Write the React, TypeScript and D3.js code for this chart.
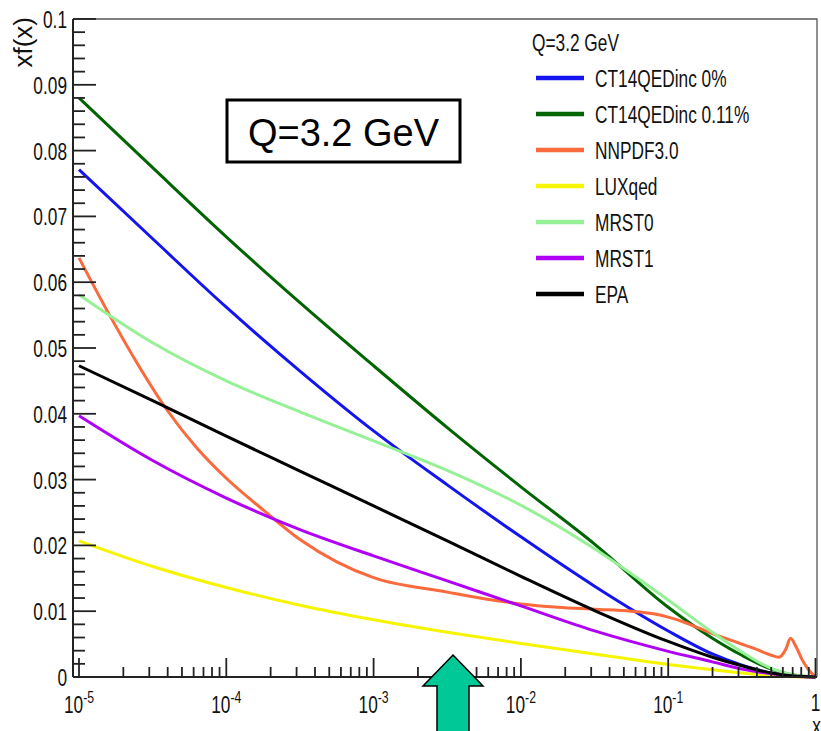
import { useEffect, useRef } from "react";
import * as d3 from "d3";

// x grid as powers of ten (x = 10^e)
const gridExp = [-5, -4.5, -4, -3.5, -3, -2.5, -2, -1.5, -1, -0.7, -0.5, -0.3, -0.15, 0];

const ct14Inc0 = [0.0771, 0.0666, 0.0562, 0.0465, 0.0374, 0.0292, 0.0213, 0.0138, 0.007, 0.0035, 0.0018, 0.0006, 0.00015, 0];
const ct14Inc011 = [0.088, 0.0774, 0.0669, 0.0569, 0.0473, 0.0379, 0.0289, 0.0202, 0.0106, 0.0059, 0.0033, 0.0012, 0.0003, 0];
const luxqed = [0.0207, 0.0168, 0.0136, 0.0109, 0.0087, 0.0068, 0.0051, 0.0035, 0.0019, 0.0011, 0.0006, 0.0002, 0.00005, 0];
const mrst0 = [0.0581, 0.0508, 0.045, 0.0403, 0.0359, 0.0314, 0.0261, 0.0195, 0.0117, 0.0068, 0.0038, 0.0013, 0.0003, 0];
const mrst1 = [0.0397, 0.0329, 0.0272, 0.0224, 0.0184, 0.0146, 0.0108, 0.007, 0.0039, 0.0023, 0.0012, 0.0005, 0.0001, 0];
const epa = [0.0473, 0.042, 0.0366, 0.0313, 0.026, 0.0207, 0.0153, 0.0101, 0.0054, 0.003, 0.0017, 0.0006, 0.00015, 0];

// NNPDF3.0 has its own, denser grid (bump near x~0.7)
const nnpdfExp = [-5, -4.8, -4.6, -4.4, -4.2, -4, -3.75, -3.5, -3.25, -3, -2.5, -2.25, -2, -1.75, -1.5, -1.25, -1.1, -1, -0.9, -0.8, -0.7, -0.6, -0.5, -0.4, -0.3, -0.25, -0.2, -0.17, -0.13, -0.09, -0.05, 0];
const nnpdf30 = [0.0637, 0.0553, 0.0475, 0.0405, 0.0348, 0.0302, 0.0254, 0.0209, 0.0175, 0.0151, 0.0129, 0.0119, 0.0111, 0.0106, 0.0103, 0.01, 0.0096, 0.0091, 0.0084, 0.0075, 0.0066, 0.0058, 0.005, 0.0042, 0.0033, 0.003, 0.0043, 0.0059, 0.0045, 0.0026, 0.0012, 0];

const seriesNames = ["CT14QEDinc 0%", "CT14QEDinc 0.11%", "NNPDF3.0", "LUXqed", "MRST0", "MRST1", "EPA"];
const seriesColors = ["#1414f0", "#006400", "#fa6a3c", "#f5f500", "#96f096", "#b000f5", "#000000"];

const yTicks = [0, 0.01, 0.02, 0.03, 0.04, 0.05, 0.06, 0.07, 0.08, 0.09, 0.1];
const yTickLabels = ["0", "0.01", "0.02", "0.03", "0.04", "0.05", "0.06", "0.07", "0.08", "0.09", "0.1"];
const xDecades = [-5, -4, -3, -2, -1, 0];

const W = 821, H = 731;
const FONT = "'Liberation Sans', Arial, sans-serif";
const SX = 0.72;

function App() {
  const ref = useRef(null);

  useEffect(() => {
    const svg = d3.select(ref.current);
    svg.selectAll("*").remove();

    const left = 73, right = 815.5, top = 19, bottom = 677;
    const xLeft = Math.pow(10, -5 - 6 / 147.3);
    const x = d3.scaleLog().domain([xLeft, 1]).range([left, right]);
    const y = d3.scaleLinear().domain([0, 0.1]).range([bottom, top]);

    svg.append("rect").attr("width", W).attr("height", H).attr("fill", "#fff");

    // frame
    svg.append("path")
      .attr("d", `M${left},${top}H817V${bottom}`)
      .attr("fill", "none").attr("stroke", "#555").attr("stroke-width", 1.3);

    const rootText = (g, tx, ty, txt, anchor, size) =>
      g.append("text")
        .attr("transform", `translate(${tx},${ty}) scale(${SX},1)`)
        .attr("text-anchor", anchor)
        .attr("font-family", FONT)
        .attr("font-size", size)
        .attr("fill", "#111")
        .text(txt);

    // curves
    const line = d3.line().x(d => x(d[0])).y(d => y(d[1])).curve(d3.curveMonotoneX);
    const gridX = gridExp.map(e => Math.pow(10, e));
    const curves = [
      gridX.map((v, i) => [v, ct14Inc0[i]]),
      gridX.map((v, i) => [v, ct14Inc011[i]]),
      nnpdfExp.map((e, i) => [Math.pow(10, e), nnpdf30[i]]),
      gridX.map((v, i) => [v, luxqed[i]]),
      gridX.map((v, i) => [v, mrst0[i]]),
      gridX.map((v, i) => [v, mrst1[i]]),
      gridX.map((v, i) => [v, epa[i]]),
    ];
    const cg = svg.append("g");
    curves.forEach((c, i) => {
      cg.append("path").attr("d", line(c)).attr("fill", "none")
        .attr("stroke", seriesColors[i]).attr("stroke-width", 3)
        .attr("stroke-linejoin", "round");
    });

    // y axis
    const ya = svg.append("g");
    ya.append("line").attr("x1", left).attr("x2", left).attr("y1", top).attr("y2", bottom)
      .attr("stroke", "#222").attr("stroke-width", 2);
    d3.range(0, 51).forEach(k => {
      const v = k * 0.002;
      const major = k % 5 === 0;
      ya.append("line").attr("x1", left).attr("x2", left + (major ? 23 : 12))
        .attr("y1", y(v)).attr("y2", y(v)).attr("stroke", "#222").attr("stroke-width", 1.8);
    });
    yTicks.forEach((v, i) => rootText(ya, 67, y(v) + 9, yTickLabels[i], "end", 24));

    // x axis
    const xa = svg.append("g");
    xa.append("line").attr("x1", left).attr("x2", 817).attr("y1", bottom).attr("y2", bottom)
      .attr("stroke", "#222").attr("stroke-width", 2);
    xDecades.forEach(e => {
      const base = Math.pow(10, e);
      xa.append("line").attr("x1", x(base)).attr("x2", x(base)).attr("y1", bottom).attr("y2", bottom - 19)
        .attr("stroke", "#222").attr("stroke-width", 1.8);
      if (e < 0) {
        for (let k = 2; k <= 9; k++) {
          const v = k * base;
          xa.append("line").attr("x1", x(v)).attr("x2", x(v)).attr("y1", bottom).attr("y2", bottom - 10)
            .attr("stroke", "#222").attr("stroke-width", 1.8);
        }
        const t = xa.append("text")
          .attr("transform", `translate(${x(base)},${713}) scale(${SX},1)`)
          .attr("text-anchor", "middle").attr("font-family", FONT).attr("fill", "#111");
        t.append("tspan").attr("font-size", 24).text("10");
        t.append("tspan").attr("font-size", 17).attr("dy", -10).text(String(e));
      } else {
        rootText(xa, x(base), 711, "1", "middle", 24);
      }
    });

    // axis titles
    svg.append("text")
      .attr("transform", `translate(32,17) rotate(-90)`)
      .attr("text-anchor", "end").attr("font-family", FONT).attr("font-size", 26).attr("fill", "#111")
      .text("xf(x)");
    rootText(svg, 821, 734, "x", "end", 24);

    // legend
    const lg = svg.append("g");
    rootText(lg, 532, 51, "Q=3.2 GeV", "start", 24);
    seriesNames.forEach((name, i) => {
      const ly = 78 + i * 36;
      lg.append("line").attr("x1", 536).attr("x2", 584).attr("y1", ly).attr("y2", ly)
        .attr("stroke", seriesColors[i]).attr("stroke-width", 4.5);
      rootText(lg, 595, ly + 9, name, "start", 24);
    });

    // annotation box
    svg.append("rect").attr("x", 227).attr("y", 100).attr("width", 233).attr("height", 62)
      .attr("fill", "#fff").attr("stroke", "#000").attr("stroke-width", 3);
    svg.append("text").attr("x", 343.5).attr("y", 146).attr("text-anchor", "middle")
      .attr("font-family", FONT).attr("font-size", 38).attr("fill", "#000").text("Q=3.2 GeV");

    // arrow
    svg.append("path")
      .attr("d", "M453,655 L483,686 L469,686 L469,740 L437,740 L437,686 L423,686 Z")
      .attr("fill", "#00c896").attr("stroke", "#000").attr("stroke-width", 1.5);
  }, []);

  return (
    <svg ref={ref} width={W} height={H}
      style={{ position: "absolute", left: 0, top: 0, display: "block" }} />
  );
}

export default App;
